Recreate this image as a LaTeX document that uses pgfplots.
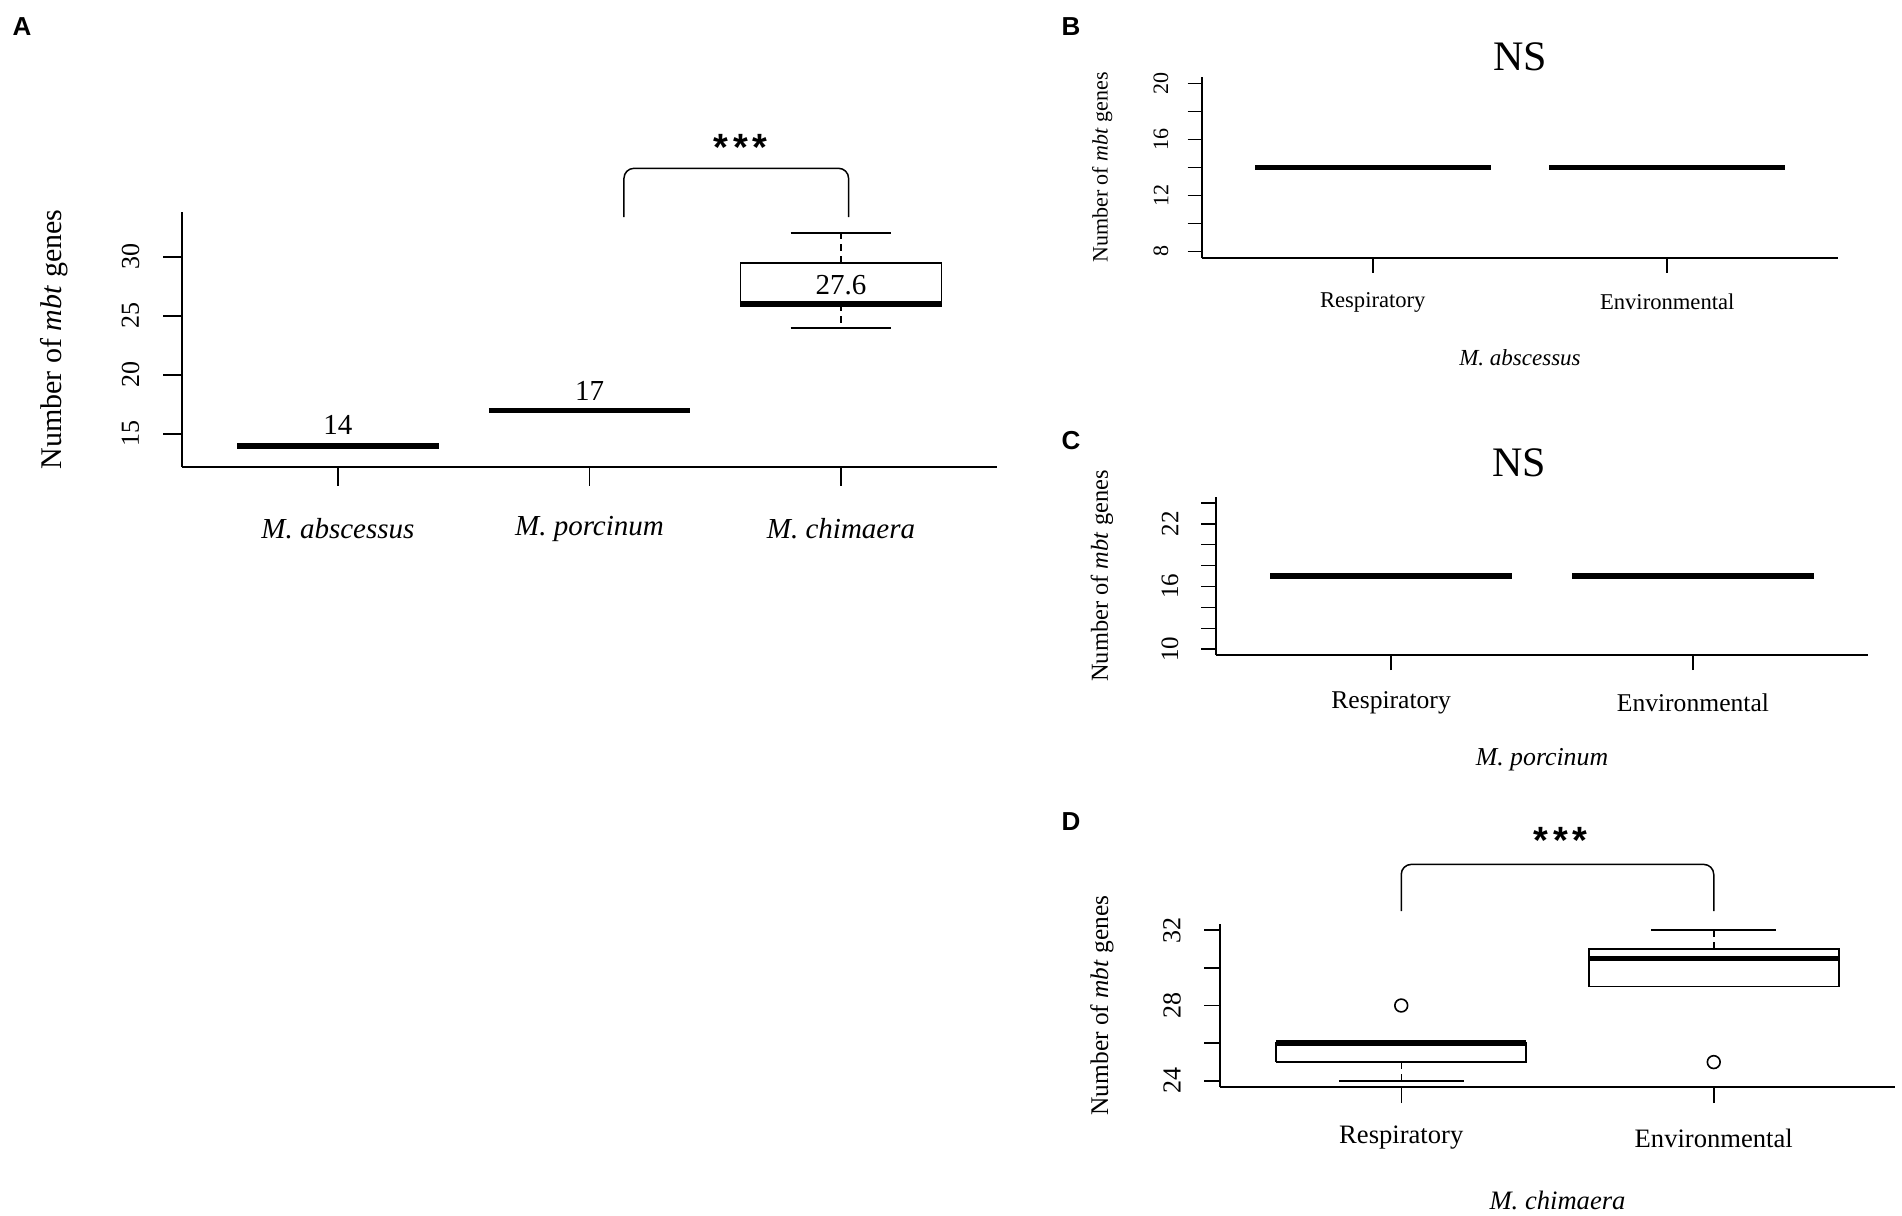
\documentclass[border=0pt]{standalone}
\usepackage{fontspec}
\setmainfont{Liberation Serif}
\newfontfamily\panelfont{Liberation Sans}
\usepackage{pgfplots}
\pgfplotsset{compat=1.18}

\newcommand{\fsz}[1]{\fontsize{#1}{#1}\selectfont}
\newcommand{\stars}{{\panelfont\bfseries\fsz{19pt}*\kern2.4pt*\kern2.4pt*}}

\pgfplotsset{
  rbase/.style={
    scale only axis, anchor=south west, clip=false,
    axis x line*=bottom, axis y line*=left,
    axis line style={-, line width=0.85pt, black},
    tick align=outside,
    tick style={black, line width=0.75pt},
    /pgf/number format/assume math mode=true,
  },
  boxl/.style={black, line width=0.8pt, mark=none},
  medl/.style={black, line width=2.8pt, mark=none},
  whisk/.style={black, line width=0.75pt, mark=none, dash pattern=on 3.5pt off 2.5pt},
  capl/.style={black, line width=0.8pt, mark=none},
  outl/.style={black, only marks, mark=o, mark size=3.2pt, mark options={line width=0.8pt, solid}},
}

\begin{document}
\begin{tikzpicture}
\path[use as bounding box] (0pt,0pt) rectangle (951pt,-608pt);

% Panel letters
\node[font=\panelfont\bfseries\fsz{13pt}] at (11pt,-13.5pt) {A};
\node[font=\panelfont\bfseries\fsz{13pt}] at (535.5pt,-13.5pt) {B};
\node[font=\panelfont\bfseries\fsz{13pt}] at (535.5pt,-220.5pt) {C};
\node[font=\panelfont\bfseries\fsz{13pt}] at (535.5pt,-411pt) {D};

% ---------------- Panel A ----------------
\begin{axis}[rbase,
  at={(91pt,-233.5pt)}, width=407.5pt, height=127.5pt,
  xmin=0.38, xmax=3.62, ymin=12.2, ymax=33.8,
  xtick={1,2,3},
  xticklabels={\textit{M. abscessus},\textit{M. porcinum},\textit{M. chimaera}},
  ytick={15,20,25,30},
  major tick length=9.25pt,
  xticklabel style={anchor=center, yshift=-21.5pt, font=\fsz{14.5pt}},
  yticklabel style={xshift=-16.5pt, rotate=90, anchor=center, font=\fsz{13pt}},
  ylabel={Number of \textit{mbt} genes},
  every axis y label/.style={at={(axis description cs:-0.157,0.5)}, rotate=90, anchor=center, font=\fsz{15pt}},
]
% M. abscessus: all values 14
\addplot[medl] coordinates {(0.6,14) (1.4,14)};
% M. porcinum: all values 17
\addplot[medl] coordinates {(1.6,17) (2.4,17)};
% M. chimaera: box 26-29.5, median 26, whiskers 24-32
\addplot[whisk] coordinates {(3,29.5) (3,32)};
\addplot[whisk] coordinates {(3,26) (3,24)};
\addplot[capl] coordinates {(2.8,32) (3.2,32)};
\addplot[capl] coordinates {(2.8,24) (3.2,24)};
\addplot[boxl] coordinates {(2.6,26) (3.4,26) (3.4,29.5) (2.6,29.5) (2.6,26)};
\addplot[medl] coordinates {(2.6,26) (3.4,26)};
\node[font=\fsz{14.5pt}] at (axis cs:1,15.76) {14};
\node[font=\fsz{14.5pt}] at (axis cs:2,18.63) {17};
\node[font=\fsz{14.5pt}] at (axis cs:3,27.64) {27.6};
\draw[black, line width=0.75pt, rounded corners=5pt]
  (axis cs:2.137,33.37) -- (axis cs:2.137,37.5) -- (axis cs:3.03,37.5) -- (axis cs:3.03,33.37);
\node at (axis cs:2.6,39.3) {\stars};
\end{axis}

% ---------------- Panel B ----------------
\begin{axis}[rbase,
  at={(601pt,-129pt)}, width=318pt, height=90.5pt,
  xmin=0.42, xmax=2.58, ymin=7.52, ymax=20.48,
  xtick={1,2}, xticklabels={Respiratory,Environmental},
  ytick={8,12,16,20}, minor ytick={10,14,18},
  major tick length=7.25pt, minor tick length=7.25pt,
  xticklabel style={anchor=center, yshift=-14.75pt, font=\fsz{11.3pt}},
  yticklabel style={xshift=-13.25pt, rotate=90, anchor=center, font=\fsz{11pt}},
  ylabel={Number of \textit{mbt} genes},
  every axis y label/.style={at={(axis description cs:-0.157,0.5)}, rotate=90, anchor=center, font=\fsz{11pt}},
  xlabel={\textit{M. abscessus}},
  every axis x label/.style={at={(axis description cs:0.5,-0.552)}, anchor=center, font=\fsz{11.5pt}},
  title={NS},
  every axis title/.style={at={(axis description cs:0.5,1.11)}, anchor=center, font=\fsz{21pt}},
]
\addplot[medl] coordinates {(0.6,14) (1.4,14)};
\addplot[medl] coordinates {(1.6,14) (2.4,14)};
\end{axis}

% ---------------- Panel C ----------------
\begin{axis}[rbase,
  at={(608pt,-327.5pt)}, width=326pt, height=79pt,
  xmin=0.42, xmax=2.58, ymin=9.44, ymax=24.56,
  xtick={1,2}, xticklabels={Respiratory,Environmental},
  ytick={10,16,22}, minor ytick={12,14,18,20,24},
  major tick length=7.5pt, minor tick length=7.5pt,
  xticklabel style={anchor=center, yshift=-16.5pt, font=\fsz{12.8pt}},
  yticklabel style={xshift=-15.5pt, rotate=90, anchor=center, font=\fsz{12.5pt}},
  ylabel={Number of \textit{mbt} genes},
  every axis y label/.style={at={(axis description cs:-0.175,0.5)}, rotate=90, anchor=center, font=\fsz{12.2pt}},
  xlabel={\textit{M. porcinum}},
  every axis x label/.style={at={(axis description cs:0.5,-0.665)}, anchor=center, font=\fsz{12.9pt}},
  title={NS},
  every axis title/.style={at={(axis description cs:0.465,1.215)}, anchor=center, font=\fsz{21pt}},
]
\addplot[medl] coordinates {(0.6,17) (1.4,17)};
\addplot[medl] coordinates {(1.6,17) (2.4,17)};
\end{axis}

% ---------------- Panel D ----------------
\begin{axis}[rbase,
  at={(610pt,-543.5pt)}, width=337.5pt, height=81.5pt,
  xmin=0.42, xmax=2.58, ymin=23.68, ymax=32.32,
  xtick={1,2}, xticklabels={Respiratory,Environmental},
  ytick={24,28,32}, minor ytick={26,30},
  major tick length=8pt, minor tick length=8pt,
  xticklabel style={anchor=center, yshift=-17.5pt, font=\fsz{13.3pt}},
  yticklabel style={xshift=-16pt, rotate=90, anchor=center, font=\fsz{13pt}},
  ylabel={Number of \textit{mbt} genes},
  every axis y label/.style={at={(axis description cs:-0.175,0.5)}, rotate=90, anchor=center, font=\fsz{12.7pt}},
  xlabel={\textit{M. chimaera}},
  every axis x label/.style={at={(axis description cs:0.5,-0.693)}, anchor=center, font=\fsz{13.3pt}},
]
% Respiratory: whisker 24, Q1 25, median 26, Q3 26, outlier 28
\addplot[whisk] coordinates {(1,25) (1,24)};
\addplot[capl] coordinates {(0.8,24) (1.2,24)};
\addplot[boxl] coordinates {(0.6,25) (1.4,25) (1.4,26) (0.6,26) (0.6,25)};
\addplot[medl] coordinates {(0.6,26) (1.4,26)};
\addplot[outl] coordinates {(1,28)};
% Environmental: whisker 29-32, Q1 29, median 30.5, Q3 31, outlier 25
\addplot[whisk] coordinates {(2,31) (2,32)};
\addplot[capl] coordinates {(1.8,32) (2.2,32)};
\addplot[boxl] coordinates {(1.6,29) (2.4,29) (2.4,31) (1.6,31) (1.6,29)};
\addplot[medl] coordinates {(1.6,30.5) (2.4,30.5)};
\addplot[outl] coordinates {(2,25)};
\draw[black, line width=0.75pt, rounded corners=5pt]
  (axis cs:1,33.0) -- (axis cs:1,35.48) -- (axis cs:2,35.48) -- (axis cs:2,33.0);
\node at (axis cs:1.51,36.75) {\stars};
\end{axis}
\end{tikzpicture}
\end{document}
